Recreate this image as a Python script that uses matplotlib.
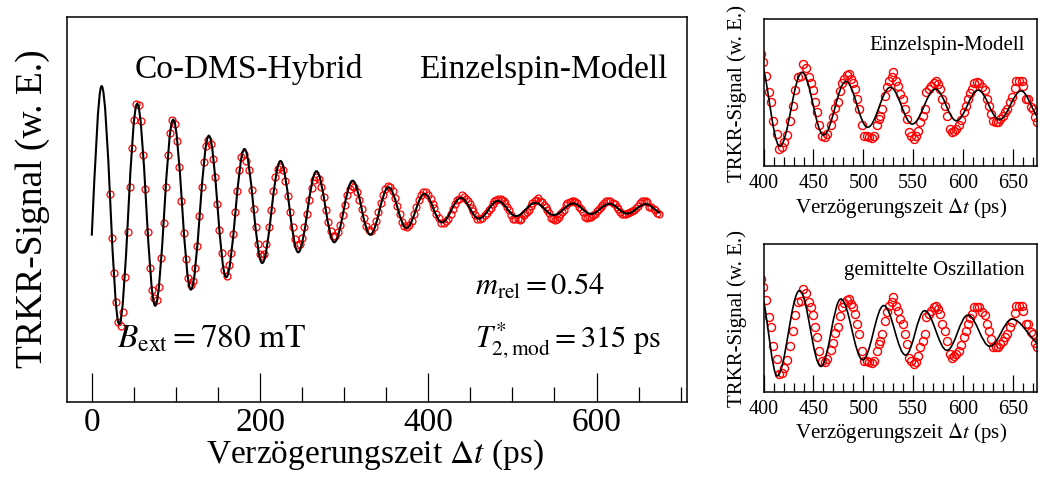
import numpy as np
import matplotlib
matplotlib.use("Agg")
import matplotlib.pyplot as plt
from matplotlib.path import Path
from matplotlib.patches import PathPatch
from matplotlib.ticker import MultipleLocator

plt.rcParams['font.family'] = ['Liberation Serif', 'DejaVu Serif']
plt.rcParams['mathtext.fontset'] = 'stix'

# ---- measured TRKR trace: delay (ps) and Kerr signal (arb. units) ----
t_meas = [
    21.2, 23.5, 25.9, 28.3, 31.4, 34.6, 37.3, 39.4, 42.6, 45.3, 47.7, 50.1, 52.8, 55.9,
    58.7, 60.8, 63.5, 66.7, 69.1, 71.5, 74.2, 77.1, 79.8, 82.5, 85.4, 88.1, 90.5, 92.9,
    95.6, 98.8, 101.2, 103.9, 106.3, 109.5, 112.2, 114.9, 117.5, 120.2, 122.6, 125.3,
    127.7, 130.6, 132.9, 135.7, 138.4, 141.3, 144.0, 146.7, 149.1, 151.5, 154.3, 156.7,
    160.3, 162.7, 165.4, 168.1, 170.5, 172.9, 175.3, 177.3, 180.5, 183.6, 186.8, 190.0,
    192.4, 194.8, 197.1, 200.2, 202.2, 204.3, 207.4, 210.6, 213.0, 215.7, 217.7, 220.9,
    224.0, 227.1,
    230.2, 233.0, 235.9, 238.7, 241.5, 244.4, 247.2, 250.0, 252.8, 255.7, 258.5, 261.3,
    264.2, 267.0, 269.8, 272.7, 275.5, 278.3, 281.1, 284.0, 286.8, 289.6, 292.5, 295.3,
    298.1, 301.0, 303.8, 306.6, 309.4, 312.3, 315.1, 317.9, 320.8, 323.6, 326.4, 329.3,
    332.1, 334.9, 337.7, 340.6, 343.4, 346.2, 349.1, 351.9, 354.7, 357.6, 360.4, 363.2,
    366.0, 368.9, 371.7, 374.5, 377.4, 380.2, 383.0, 385.9, 388.7, 391.5, 394.3, 397.2,
    399.8, 402.8, 405.1, 407.1, 409.5, 412.9, 415.5, 418.2, 420.6, 423.9, 426.9, 429.0,
    431.6, 434.0, 437.0, 439.7, 442.4, 445.1, 447.1, 449.1, 451.4, 453.5, 455.5, 458.2,
    461.5, 463.9, 467.6, 469.9, 471.9, 474.3, 476.6, 478.3, 480.6, 483.3, 486.0, 487.7,
    490.0, 491.7, 494.0, 496.1, 498.8, 500.8, 503.5, 506.2, 508.5, 510.8, 513.5, 515.5,
    516.9, 519.2, 521.6, 523.6, 526.3, 528.6, 530.3, 532.7, 534.7, 537.0, 539.4, 541.4,
    543.7, 546.1, 548.1, 550.4, 552.8, 555.1, 557.1, 559.5, 561.5, 563.2, 565.5, 567.9,
    570.6, 572.9, 574.9, 576.6, 579.0, 581.6, 584.0, 586.7, 589.0, 591.4, 593.4, 595.7,
    598.1, 600.8, 603.1, 604.8, 606.8, 609.2, 611.5, 614.2, 616.6, 619.2, 621.9, 624.3,
    626.0, 628.3, 630.3, 632.7, 635.4, 637.7, 640.1, 642.1, 644.5, 646.8, 649.5, 651.8,
    653.5, 656.2, 658.9, 660.6, 662.9, 665.3, 668.0, 670.0, 672.4, 674.0,
]
s_meas = [
    0.108, -0.258, -0.550, -0.794, -0.961, -0.989, -0.873, -0.581, -0.206, 0.164, 0.489, 0.728, 0.862, 0.852,
    0.719, 0.436, 0.150, -0.211, -0.506, -0.694, -0.758, -0.773, -0.669, -0.425, -0.131, 0.169, 0.433, 0.617,
    0.728, 0.692, 0.553, 0.336, 0.053, -0.217, -0.431, -0.592, -0.650, -0.615, -0.511, -0.323,
    -0.073, 0.169, 0.378, 0.506, 0.561, 0.525, 0.400, 0.253, 0.025, -0.192, -0.383, -0.523,
    -0.573, -0.481, -0.386, -0.225, -0.039, 0.136, 0.308, 0.414, 0.442, 0.386, 0.308, 0.144,
    -0.017, -0.169, -0.308, -0.392, -0.405, -0.392, -0.311, -0.169, -0.025, 0.136, 0.253, 0.317,
    0.331, 0.305,
    0.214, 0.093, -0.042, -0.170, -0.266, -0.316, -0.311, -0.259, -0.170, -0.058, 0.057, 0.157,
    0.225, 0.250, 0.230, 0.169, 0.080, -0.024, -0.123, -0.199, -0.242, -0.243, -0.209, -0.147,
    -0.066, 0.019, 0.096, 0.152, 0.177, 0.168, 0.127, 0.062, -0.016, -0.094, -0.157, -0.194,
    -0.198, -0.171, -0.117, -0.046, 0.031, 0.101, 0.153, 0.177, 0.170, 0.135, 0.078, 0.008,
    -0.062, -0.122, -0.160, -0.170, -0.153, -0.114, -0.059, 0.002, 0.060, 0.103, 0.126, 0.124,
    0.102, 0.066, 0.022, -0.007, -0.058, -0.094, -0.135, -0.131, -0.117, -0.097, -0.058, -0.018,
    0.026, 0.061, 0.064, 0.098, 0.086, 0.063, 0.047, 0.027, -0.007, -0.033, -0.071, -0.099,
    -0.103, -0.094, -0.070, -0.049, -0.024, -0.007, 0.024, 0.047, 0.058, 0.067, 0.070, 0.056,
    0.047, 0.029, 0.002, -0.026, -0.071, -0.099, -0.099, -0.103, -0.105, -0.099, -0.071, -0.053,
    -0.044, -0.026, 0.009, 0.034, 0.052, 0.061, 0.075, 0.052, 0.038, 0.015, 0.002, -0.026,
    -0.053, -0.090, -0.099, -0.108, -0.101, -0.085, -0.062, -0.044, -0.026, 0.020, 0.029, 0.038,
    0.047, 0.052, 0.043, 0.029, 0.002, -0.018, -0.044, -0.081, -0.090, -0.085, -0.081, -0.071,
    -0.055, -0.035, -0.017, 0.002, 0.018, 0.029, 0.047, 0.049, 0.047, 0.034, 0.027, 0.002,
    -0.017, -0.040, -0.060, -0.062, -0.062, -0.053, -0.044, -0.035, -0.026, -0.007, 0.006, 0.031,
    0.052, 0.052, 0.052, 0.038, 0.002, 0.002, -0.021, -0.026, -0.049, -0.062,
]

# ---- single-spin model: start, successive extrema, end ----
t_spin = [0.0, 11.7, 32.6, 54.0, 75.4, 96.8, 117.8, 139.2, 159.8, 181.5, 202.6, 224.3,
          245.4, 267.1, 288.2, 310.1, 331.0, 352.7, 374.1, 395.5, 416.2, 438.6, 460.2,
          482.6, 504.4, 527.2, 549.2, 572.4, 593.5, 615.3, 636.5, 658.5, 675.5]
s_spin = [-0.239, 1.007, -0.975, 0.858, -0.823, 0.728, -0.689, 0.594, -0.586, 0.483,
          -0.467, 0.383, -0.378, 0.298, -0.294, 0.219, -0.231, 0.164, -0.175, 0.110,
          -0.128, 0.075, -0.097, 0.050, -0.076, 0.034, -0.067, 0.029, -0.058, 0.026,
          -0.055, 0.024, -0.050]

# ---- averaged-oscillation model in the late window: start, extrema, end ----
t_avg = [400.0, 413.5, 436.0, 457.5, 477.5, 499.5, 520.5, 542.5, 561.5, 584.0, 605.0,
         627.0, 649.5, 674.6]
s_avg = [0.0655, -0.140, 0.093, -0.114, 0.070, -0.096, 0.052, -0.083, 0.038, -0.070,
         0.026, -0.059, 0.015, -0.051]

HANDLE = 0.3642  # cubic handle length for a half cosine between two extrema


def _edge_slope(t_end, s_end, t_ext, s_ext, s_next):
    c = 0.5 * (s_ext + s_next)
    a = s_ext - c
    theta = np.arccos(np.clip((s_end - c) / a, -1.0, 1.0))
    omega = theta / abs(t_ext - t_end)
    slope = a * omega * np.sin(theta)
    return slope if t_end < t_ext else -slope


def oscillation_path(t, s):
    t = np.asarray(t, float)
    s = np.asarray(s, float)
    m_first = _edge_slope(t[0], s[0], t[1], s[1], s[2])
    m_last = _edge_slope(t[-1], s[-1], t[-2], s[-2], s[-3])
    verts = [(t[0], s[0])]
    codes = [Path.MOVETO]
    n = len(t)
    for i in range(n - 1):
        h = t[i + 1] - t[i]
        if i == 0:
            p1 = (t[i] + h / 3, s[i] + m_first * h / 3)
            p2 = (t[i + 1] - h / 3, s[i + 1])
        elif i == n - 2:
            p1 = (t[i] + h / 3, s[i])
            p2 = (t[i + 1] - h / 3, s[i + 1] - m_last * h / 3)
        else:
            p1 = (t[i] + HANDLE * h, s[i])
            p2 = (t[i + 1] - HANDLE * h, s[i + 1])
        verts += [p1, p2, (t[i + 1], s[i + 1])]
        codes += [Path.CURVE4] * 3
    return Path(verts, codes)


RED = '#ff0000'

fig = plt.figure(figsize=(10.38, 4.81), dpi=100)

# ---- main panel ----
ax = fig.add_axes([0.0641, 0.1622, 0.5973, 0.8004])
ax.plot(t_meas, s_meas, 'o', ms=5.0, mfc='none', mec=RED, mew=0.9, zorder=2)
ax.add_patch(PathPatch(oscillation_path(t_spin, s_spin), fill=False,
                       edgecolor='black', lw=1.5, zorder=3))
ax.set_xlim(-30, 707)
ax.set_ylim(-1.625, 1.583)
ax.xaxis.set_major_locator(MultipleLocator(200))
ax.xaxis.set_minor_locator(MultipleLocator(50))
ax.tick_params(axis='x', which='major', direction='in', length=21, width=0.9,
               top=False, labelsize=24, pad=3)
ax.tick_params(axis='x', which='minor', direction='in', length=10.5, width=0.9, top=False)
ax.tick_params(axis='y', left=False, labelleft=False, which='both')
for sp in ax.spines.values():
    sp.set_linewidth(1.1)

ax.text(0.110, 0.844, 'Co-DMS-Hybrid', transform=ax.transAxes, fontsize=24,
        ha='left', va='baseline')
ax.text(0.970, 0.844, 'Einzelspin-Modell', transform=ax.transAxes, fontsize=24,
        ha='right', va='baseline')
ax.text(0.659, 0.2805, r'$m_{\mathrm{rel}} = 0.54$', transform=ax.transAxes,
        fontsize=22, ha='left', va='baseline')
ax.text(0.081, 0.143, r'$B_{\mathrm{ext}} = 780\ \mathrm{mT}$', transform=ax.transAxes,
        fontsize=24, ha='left', va='baseline')
ax.text(0.659, 0.143, r'$T^{*}_{2,\mathrm{mod}} = 315\ \mathrm{ps}$', transform=ax.transAxes,
        fontsize=22, ha='left', va='baseline')

fig.text(0.3613, 0.054, r'Verzögerungszeit $\Delta t$ (ps)', fontsize=24,
         ha='center', va='center')
fig.text(0.0318, 0.5655, 'TRKR-Signal (w. E.)', fontsize=27, rotation=90,
         ha='center', va='center')

# ---- zoomed panels: late delays ----
small_specs = [
    ([0.7357, 0.6522, 0.2630, 0.3052], 'Einzelspin-Modell', t_spin, s_spin, 0.567, 0.8046),
    ([0.7357, 0.1836, 0.2630, 0.3070], 'gemittelte Oszillation', t_avg, s_avg, 0.0991, 0.3370),
]
for rect, title, t_line, s_line, xlab_y, ylab_y in small_specs:
    sa = fig.add_axes(rect)
    sa.plot(t_meas, s_meas, 'o', ms=5.8, mfc='none', mec=RED, mew=1.0, zorder=2)
    sa.add_patch(PathPatch(oscillation_path(t_line, s_line), fill=False,
                           edgecolor='black', lw=1.2, zorder=3))
    sa.set_xlim(400, 674)
    sa.set_ylim(-0.183, 0.220)
    sa.xaxis.set_major_locator(MultipleLocator(50))
    sa.xaxis.set_minor_locator(MultipleLocator(10))
    sa.tick_params(axis='x', which='major', direction='in', length=12.5, width=0.9,
                   top=False, labelsize=14.5, pad=5)
    sa.tick_params(axis='x', which='minor', direction='in', length=6.5, width=0.9, top=False)
    sa.tick_params(axis='y', left=False, labelleft=False, which='both')
    for sp in sa.spines.values():
        sp.set_linewidth(1.1)
    sa.text(0.955, 0.797, title, transform=sa.transAxes, fontsize=15,
            ha='right', va='baseline')
    fig.text(0.8678, xlab_y, r'Verzögerungszeit $\Delta t$ (ps)', fontsize=15,
             ha='center', va='center')
    fig.text(0.7097, ylab_y, 'TRKR-Signal (w. E.)', fontsize=15, rotation=90,
             ha='center', va='center')

fig.savefig('out.png', dpi=100)
